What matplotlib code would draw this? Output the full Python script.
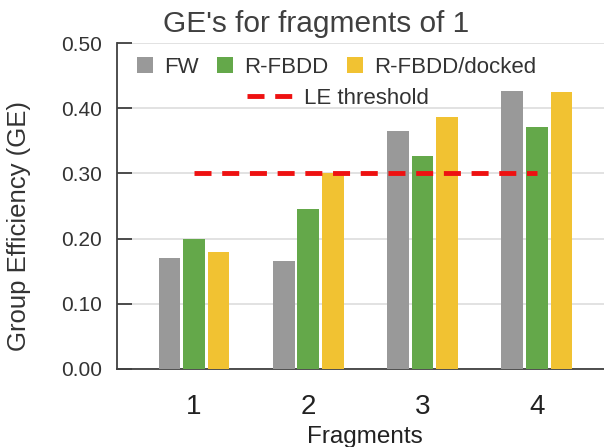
import numpy as np
import matplotlib
matplotlib.use("Agg")
from matplotlib import pyplot as plt

plt.rcParams['font.family'] = ['Liberation Sans', 'DejaVu Sans']

fragments = ["1", "2", "3", "4"]
fw = [0.171, 0.166, 0.365, 0.427]
rfbdd = [0.200, 0.246, 0.326, 0.371]
rfbdd_docked = [0.180, 0.300, 0.386, 0.425]
le_threshold = 0.30

gray = "#999999"
green = "#64a84a"
yellow = "#f1c232"
dark = "#404040"

fig = plt.figure(figsize=(6.04, 4.47), dpi=100)
ax = fig.add_axes([0.1937, 0.1745, 0.8063, 0.7293])

x = np.arange(1, len(fragments) + 1)
w = 0.19
step = 0.215
b1 = ax.bar(x - step, fw, w, color=gray, label="FW", zorder=3)
b2 = ax.bar(x, rfbdd, w, color=green, label="R-FBDD", zorder=3)
b3 = ax.bar(x + step, rfbdd_docked, w, color=yellow, label="R-FBDD/docked", zorder=3)
ln, = ax.plot([x[0], x[-1]], [le_threshold, le_threshold], color="#ee1111", lw=3.5,
              dashes=(3.5, 2.2), label="LE threshold", zorder=4)

ax.set_xlim(0.326, 4.587)
ax.set_ylim(0, 0.5)
ax.set_yticks(np.arange(0, 0.51, 0.1))
ax.set_yticklabels(["%.2f" % v for v in np.arange(0, 0.51, 0.1)])
ax.set_xticks(x)
ax.set_xticklabels(fragments)
ax.yaxis.grid(True, color="#dddddd", lw=1.2, zorder=0)
ax.tick_params(axis="y", direction="in", length=11, width=1.3, color=dark,
               labelsize=15, labelcolor="#333333", pad=11)
ax.tick_params(axis="x", length=0, labelsize=20, labelcolor="#222222", pad=18)
for s in ["top", "right"]:
    ax.spines[s].set_visible(False)
for s in ["left", "bottom"]:
    ax.spines[s].set_color(dark)
    ax.spines[s].set_linewidth(1.3)

ax.set_xlabel("Fragments", fontsize=17.5, color="#222222", va="center")
ax.xaxis.set_label_coords(0.510, -0.209)
ax.set_ylabel("Group Efficiency (GE)", fontsize=18.5, color="#333333")
ax.yaxis.set_label_coords(-0.177, 0.439)

leg1 = ax.legend(handles=[b1, b2, b3], ncol=3, loc="center left", bbox_to_anchor=(0.0, 0.925),
                 frameon=False, fontsize=16, handlelength=0.7, handleheight=0.7,
                 handletextpad=0.5, columnspacing=0.85, labelcolor="#333333")
ax.add_artist(leg1)
ax.legend(handles=[ln], loc="center left", bbox_to_anchor=(0.226, 0.83), frameon=False,
          fontsize=16, handlelength=2.0, handletextpad=0.55, labelcolor="#333333")

fig.text(0.523, 0.947, "GE's for fragments of 1", ha="center", va="center",
         fontsize=21.5, color=dark)

fig.savefig("out.png", dpi=100)
